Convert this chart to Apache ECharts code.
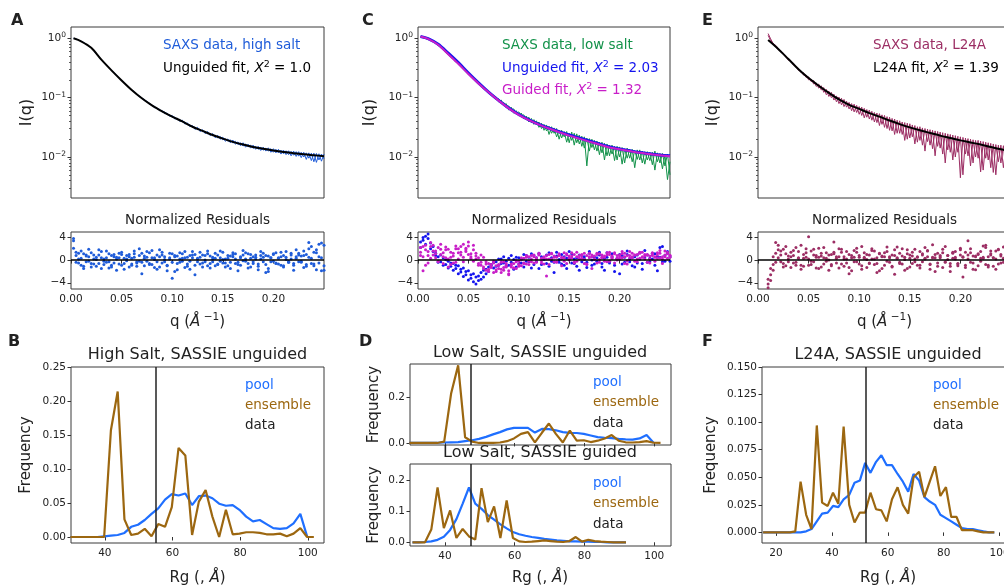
<!DOCTYPE html>
<html>
<head>
<meta charset="UTF-8">
<title>SAXS fits and Rg distributions</title>
<script src="https://cdn.jsdelivr.net/npm/echarts@6/dist/echarts.min.js"></script>
<style>
  html, body { margin: 0; padding: 0; background: #fff; }
  #main { width: 1004px; height: 588px; }
</style>
</head>
<body>
<div id="main"></div>
<script>
// ---- scattering vector grid (1/Å), shared by measured curves and residuals
var qGrid = [0.0025, 0.005, 0.0075, 0.01, 0.0125, 0.015, 0.0175, 0.02, 0.0225, 0.025,
  0.0275, 0.03, 0.0325, 0.035, 0.0375, 0.04, 0.0425, 0.045, 0.0475, 0.05,
  0.0525, 0.055, 0.0575, 0.06, 0.0625, 0.065, 0.0675, 0.07, 0.0725, 0.075,
  0.0775, 0.08, 0.0825, 0.085, 0.0875, 0.09, 0.0925, 0.095, 0.0975, 0.1,
  0.1025, 0.105, 0.1075, 0.11, 0.1125, 0.115, 0.1175, 0.12, 0.1225, 0.125,
  0.1275, 0.13, 0.1325, 0.135, 0.1375, 0.14, 0.1425, 0.145, 0.1475, 0.15,
  0.1525, 0.155, 0.1575, 0.16, 0.1625, 0.165, 0.1675, 0.17, 0.1725, 0.175,
  0.1775, 0.18, 0.1825, 0.185, 0.1875, 0.19, 0.1925, 0.195, 0.1975, 0.2,
  0.2025, 0.205, 0.2075, 0.21, 0.2125, 0.215, 0.2175, 0.22, 0.2225, 0.225,
  0.2275, 0.23, 0.2325, 0.235, 0.2375, 0.24, 0.2425, 0.245, 0.2475, 0.25];
// q points of the fitted curves
var qFit = [0.0025, 0.01, 0.02, 0.03, 0.04, 0.05, 0.06, 0.07, 0.08, 0.09, 0.10, 0.11, 0.12,
  0.13, 0.14, 0.15, 0.16, 0.17, 0.18, 0.19, 0.20, 0.21, 0.22, 0.23, 0.24, 0.25];

// ---- log10 I(q) (two interleaved traces per data set)
var logDataA = [0.00, -0.01, -0.03, -0.05, -0.07, -0.10, -0.13, -0.16, -0.21, -0.26,
  -0.31, -0.36, -0.40, -0.45, -0.50, -0.54, -0.58, -0.62, -0.67, -0.71,
  -0.75, -0.79, -0.83, -0.87, -0.90, -0.945, -0.97, -1.015, -1.03, -1.075,
  -1.09, -1.135, -1.145, -1.19, -1.195, -1.24, -1.24, -1.285, -1.29, -1.33,
  -1.33, -1.37, -1.365, -1.41, -1.41, -1.455, -1.455, -1.50, -1.495, -1.54,
  -1.53, -1.575, -1.565, -1.61, -1.60, -1.645, -1.63, -1.68, -1.655, -1.71,
  -1.69, -1.735, -1.71, -1.765, -1.735, -1.79, -1.76, -1.815, -1.78, -1.83,
  -1.80, -1.855, -1.82, -1.87, -1.835, -1.885, -1.85, -1.90, -1.86, -1.92,
  -1.87, -1.93, -1.885, -1.945, -1.895, -1.96, -1.905, -1.97, -1.91, -1.985,
  -1.92, -2.00, -1.93, -2.02, -1.935, -2.08, -1.94, -2.05, -1.95, -2.03];
var logDataA2 = [null, null, null, null, null, null, null, null, null, null,
  null, null, null, null, null, null, null, null, null, null,
  null, null, null, null, -0.91, -0.935, -0.985, -1.00, -1.05, -1.06,
  -1.115, -1.12, -1.17, -1.17, -1.22, -1.215, -1.27, -1.26, -1.315, -1.30,
  -1.36, -1.345, -1.40, -1.38, -1.445, -1.425, -1.49, -1.47, -1.535, -1.50,
  -1.57, -1.54, -1.605, -1.57, -1.64, -1.605, -1.675, -1.635, -1.70, -1.665,
  -1.735, -1.695, -1.76, -1.715, -1.785, -1.745, -1.81, -1.76, -1.835, -1.785,
  -1.85, -1.80, -1.87, -1.82, -1.89, -1.835, -1.90, -1.845, -1.92, -1.86,
  -1.93, -1.87, -1.95, -1.885, -1.96, -1.895, -1.98, -1.90, -1.99, -1.91,
  -2.01, -1.92, -2.04, -1.93, -2.06, -1.935, -2.09, -1.945, -2.07, -1.95];
var logFitA = [0.0, -0.05, -0.16, -0.36, -0.54, -0.71, -0.87, -1.01, -1.13, -1.23, -1.32, -1.40, -1.49,
  -1.56, -1.63, -1.69, -1.745, -1.79, -1.83, -1.86, -1.89, -1.915, -1.935, -1.955, -1.97, -1.985];

var logDataC = [0.02, 0.01, 0.0, -0.02, -0.03, -0.06, -0.08, -0.12, -0.15, -0.19,
  -0.24, -0.27, -0.32, -0.35, -0.40, -0.43, -0.475, -0.51, -0.565, -0.60,
  -0.645, -0.675, -0.725, -0.75, -0.805, -0.825, -0.88, -0.90, -0.95, -0.96,
  -1.03, -1.02, -1.08, -1.08, -1.14, -1.14, -1.20, -1.19, -1.27, -1.24,
  -1.30, -1.29, -1.37, -1.33, -1.42, -1.37, -1.46, -1.41, -1.52, -1.45,
  -1.56, -1.48, -1.60, -1.51, -1.66, -1.55, -1.68, -1.57, -1.75, -1.60,
  -1.72, -1.60, -1.76, -1.63, -1.82, -1.66, -2.15, -1.69, -1.84, -1.72,
  -1.90, -1.75, -1.93, -1.77, -1.98, -1.80, -1.95, -1.82, -2.05, -1.83,
  -2.12, -1.86, -2.02, -1.87, -2.08, -1.89, -2.04, -1.88, -2.10, -1.91,
  -2.05, -1.92, -2.13, -1.90, -2.08, -1.94, -2.20, -1.96, -2.38, -2.08];
var logDataC2 = [0.03, 0.02, 0.01, -0.01, -0.03, -0.05, -0.08, -0.11, -0.15, -0.19,
  -0.23, -0.27, -0.31, -0.35, -0.39, -0.43, -0.47, -0.52, -0.56, -0.60,
  -0.64, -0.68, -0.72, -0.76, -0.79, -0.84, -0.87, -0.92, -0.94, -0.99,
  -0.99, -1.07, -1.04, -1.13, -1.10, -1.21, -1.16, -1.26, -1.22, -1.31,
  -1.26, -1.36, -1.31, -1.41, -1.35, -1.45, -1.39, -1.50, -1.43, -1.55,
  -1.46, -1.62, -1.49, -1.60, -1.52, -1.70, -1.55, -1.66, -1.57, -1.76,
  -1.58, -1.80, -1.61, -1.78, -1.65, -1.85, -1.68, -1.90, -1.70, -1.88,
  -1.73, -1.96, -1.75, -2.05, -1.78, -1.98, -1.80, -2.06, -1.82, -2.00,
  -1.84, -2.10, -1.85, -2.02, -1.87, -2.18, -1.88, -2.05, -1.90, -2.12,
  -1.91, -2.06, -1.92, -2.22, -1.93, -2.10, -1.94, -2.15, -1.95, -2.30];
var logFitCu = [0.03, -0.005, -0.10, -0.25, -0.41, -0.585, -0.75, -0.905, -1.045, -1.175, -1.285, -1.375, -1.45,
  -1.515, -1.575, -1.63, -1.68, -1.73, -1.78, -1.83, -1.865, -1.895, -1.925, -1.945, -1.965, -1.98];
var logFitCg = [0.03, -0.01, -0.11, -0.27, -0.43, -0.60, -0.76, -0.91, -1.05, -1.18, -1.29, -1.38, -1.455,
  -1.52, -1.58, -1.64, -1.69, -1.74, -1.79, -1.84, -1.87, -1.90, -1.93, -1.95, -1.97, -1.985];

var logDataE = [null, null, null, 0.08, -0.01, -0.09, -0.12, -0.17, -0.23, -0.25,
  -0.32, -0.34, -0.40, -0.42, -0.49, -0.51, -0.58, -0.58, -0.66, -0.65,
  -0.73, -0.71, -0.81, -0.77, -0.87, -0.83, -0.95, -0.89, -1.00, -0.94,
  -1.07, -0.99, -1.12, -1.03, -1.16, -1.08, -1.22, -1.11, -1.25, -1.15,
  -1.30, -1.18, -1.33, -1.21, -1.38, -1.25, -1.42, -1.27, -1.45, -1.30,
  -1.52, -1.33, -1.56, -1.36, -1.60, -1.39, -1.62, -1.42, -1.70, -1.44,
  -1.66, -1.47, -1.75, -1.49, -1.80, -1.52, -1.74, -1.54, -1.86, -1.56,
  -1.82, -1.58, -1.95, -1.60, -1.88, -1.62, -2.05, -1.64, -1.92, -1.66,
  -2.30, -1.68, -1.98, -1.70, -2.10, -1.72, -2.02, -1.73, -2.22, -1.75,
  -2.05, -1.77, -2.26, -1.79, -2.08, -1.80, -2.18, -1.82, -2.12, -1.84];
var logDataE2 = [null, null, null, 0.05, -0.04, -0.08, -0.15, -0.19, -0.21, -0.27,
  -0.30, -0.37, -0.38, -0.45, -0.47, -0.54, -0.55, -0.62, -0.62, -0.70,
  -0.69, -0.77, -0.75, -0.84, -0.80, -0.91, -0.86, -0.98, -0.91, -1.04,
  -0.97, -1.10, -1.01, -1.15, -1.06, -1.19, -1.10, -1.24, -1.13, -1.28,
  -1.16, -1.34, -1.20, -1.36, -1.23, -1.41, -1.26, -1.47, -1.29, -1.50,
  -1.32, -1.55, -1.35, -1.62, -1.38, -1.60, -1.41, -1.72, -1.43, -1.68,
  -1.46, -1.78, -1.49, -1.72, -1.51, -1.90, -1.53, -1.80, -1.55, -1.98,
  -1.57, -1.85, -1.59, -2.10, -1.61, -1.92, -1.63, -2.00, -1.65, -2.35,
  -1.67, -1.95, -1.69, -2.15, -1.71, -2.00, -1.72, -2.25, -1.74, -2.02,
  -1.76, -2.18, -1.78, -2.30, -1.80, -2.10, -1.81, -2.25, -1.83, -2.15];
var logFitE = [null, -0.03, -0.18, -0.35, -0.52, -0.67, -0.80, -0.92, -1.03, -1.12, -1.19, -1.26, -1.32,
  -1.385, -1.445, -1.50, -1.55, -1.595, -1.64, -1.68, -1.72, -1.755, -1.79, -1.83, -1.87, -1.90];

// ---- normalized residuals on qGrid
var resA1 = [3.8, 1.4, 0.2, -0.9, 1.1, -0.3, 0.6, -1.2, 0.9, 0.1, -0.6, 1.5, -0.2, 0.4, -1.4, 0.8, -0.5, 0.2, 1.2, -0.9,
  0.3, -0.1, 1.0, -0.7, 0.5, -1.1, 2.0, -0.4, 0.7, -0.2, 1.3, -0.8, 0.1, -1.6, 0.6, 0.9, -0.3, -1.9, 0.4, -3.2,
  0.8, -0.6, 0.2, 1.1, -1.3, 0.5, -0.2, 0.9, -0.9, 0.3, 1.4, -0.5, 0.0, -1.0, 0.7, -0.3, 1.2, -0.7, 0.4, 0.1,
  -1.2, 0.8, -0.4, 1.0, 0.2, -0.8, 0.6, -0.1, 1.3, -1.4, 0.3, -0.6, 0.9, -1.7, 0.2, 0.5, -2.2, 0.7, -0.3, 1.1,
  -0.5, 0.4, -0.9, 0.8, 0.1, -0.4, 1.2, -0.6, 0.3, 0.9, -0.2, 1.6, -0.8, 0.5, 2.4, -1.0, 1.8, 0.6, -1.9, 2.6];
var resA2 = [3.4, 0.8, -0.5, 1.6, -1.1, 0.9, -0.2, 1.3, -0.7, 0.5, 1.8, -1.5, 0.2, -0.4, 1.1, -0.9, 0.6, -1.8, 0.4, 1.0,
  -0.6, 0.8, -1.2, 0.3, 1.6, -0.5, -0.2, 1.2, -1.0, 0.5, -0.8, 1.7, 0.4, -0.3, -1.2, 1.4, 0.6, -0.9, 0.2, 1.1,
  -2.0, 0.7, -0.4, 0.3, 1.5, -0.7, -1.6, 0.4, 1.0, -0.3, 0.5, -1.2, 0.8, 1.6, -0.6, 0.2, -1.0, 0.9, -0.2, 1.4,
  -0.5, 0.3, -1.5, 0.6, 1.1, -0.4, -0.9, 1.7, 0.2, -0.6, 1.0, -0.3, 0.5, -1.1, 0.8, 1.2, -0.8, -2.0, 0.4, -0.2,
  1.3, -0.7, 0.6, -1.2, 1.5, -0.4, 0.2, -0.9, 1.8, -0.3, 0.7, -1.3, 1.0, 3.1, -0.6, 1.4, -1.7, 2.8, 0.4, -1.0];
var resA3 = [2.1, -0.4, 1.2, 0.3, -1.5, 0.7, 1.9, -0.6, 0.2, -1.1, 0.9, 0.4, -0.8, 1.6, -0.3, -1.2, 1.0, 0.5, -0.7, 1.4,
  -1.6, 0.2, 0.6, -0.9, 1.1, -0.3, 0.8, -2.4, 0.3, 1.5, -0.6, 0.4, -1.3, 0.9, 1.8, -0.5, 0.1, -1.0, 1.2, -0.4,
  0.6, -1.7, 1.3, -0.2, 0.4, -1.1, 0.8, 1.5, -2.6, 0.2, -0.7, 0.9, -0.3, 1.1, -1.4, 0.5, 0.3, -0.8, 1.6, -0.5,
  0.2, -1.0, 0.7, 1.3, -0.6, -1.9, 0.4, 0.9, -0.2, 1.1, -1.2, 0.6, 0.2, -0.7, 1.5, -0.3, 0.8, -1.5, 0.4, 1.0,
  -0.6, 0.3, 1.4, -1.0, 0.5, -0.2, 0.9, -1.8, 0.6, 1.2, -0.4, 0.8, -1.1, 2.0, 0.3, -0.7, 1.3, -0.5, 3.0, -1.8];
var resCu1 = [2.2, 3.5, 4.2, 4.6, 3.0, 2.4, 1.2, 0.6, -0.3, 0.4, -0.8, -0.2, -1.1, -0.6, -1.5, -1.0, -2.1, -1.4, -2.6, -1.9,
  -3.2, -2.4, -4.2, -2.8, -3.4, -1.8, -2.4, -1.2, -0.8, -1.4, -0.3, -0.9, 0.2, -0.5, -1.1, 0.3, -0.4, -1.6, 0.5, -0.7,
  0.2, -1.2, 0.8, -0.3, 1.1, -0.8, 0.4, -1.5, 0.6, 0.1, -0.6, 1.3, -0.2, -2.2, 0.7, -0.4, 1.0, -0.9, 0.3, 1.5,
  -0.5, 0.2, -1.1, 0.9, -0.3, 0.6, -1.3, 1.2, 0.0, -0.7, 0.4, 1.4, -0.6, -1.8, 0.5, -0.2, 1.1, -0.9, 0.3, -2.4,
  0.8, -0.4, 1.0, 0.2, -1.0, 0.6, -0.5, 1.3, -1.6, 0.4, 0.9, -0.3, 0.2, 1.1, -1.9, 0.5, 2.4, -0.2, 1.2, 0.6];
var resCu2 = [3.2, 4.0, 2.8, 3.8, 2.0, 1.5, 0.8, -0.4, 0.9, -0.9, 0.1, -1.4, -0.5, -1.8, -0.9, -2.4, -1.6, -2.9, -2.0, -3.5,
  -2.6, -3.8, -3.0, -3.6, -2.2, -3.0, -1.6, -2.0, -0.9, -0.4, -1.1, 0.2, -0.6, 0.6, -0.2, -0.9, 0.8, 0.1, -1.2, 0.4,
  -0.5, 1.0, -0.2, 0.5, -1.4, 0.8, -0.3, 1.2, -0.8, 0.2, 0.9, -1.1, 0.4, -0.4, 1.4, 0.1, -0.7, 0.6, -1.5, 0.3,
  1.1, -0.6, 0.4, -1.8, 0.8, 0.2, -0.4, 1.5, -0.9, 0.6, -0.2, 0.9, -1.2, 0.3, 1.3, -0.5, 0.6, -2.0, 0.2, 1.0,
  -0.7, 0.5, 1.6, -0.3, 0.4, -1.2, 0.9, 0.2, -0.6, 1.7, -0.4, 0.3, 1.2, -0.9, 0.6, 2.2, -0.3, 0.8, 1.5, -0.2];
var resCg1 = [1.4, -1.9, 2.6, 0.8, 3.1, 1.6, 0.4, 2.2, 1.0, -0.6, 1.8, -1.2, 0.5, 1.2, -0.4, 2.0, 0.9, 2.8, 1.5, 3.2,
  0.6, 1.8, 0.2, -0.6, 0.9, -1.2, -0.3, -1.6, -0.8, -2.2, -1.0, -1.5, -0.4, -1.8, -0.9, -2.4, -1.2, -0.6, -1.5, -0.2,
  -1.0, 0.3, -0.7, 0.6, -0.3, 0.9, 0.1, 1.2, -0.5, 0.4, -2.8, 1.0, 0.2, 0.7, -0.3, 1.1, 0.5, -0.2, 0.9, 0.3,
  1.3, -0.4, 0.6, 0.2, 1.0, -0.6, 0.8, 0.4, -1.5, 0.7, 1.2, 0.1, 0.5, -0.2, 0.9, 1.4, 0.3, -0.5, 0.8, 0.2,
  1.1, 0.6, -0.1, 1.5, 0.4, 0.9, -0.3, 1.2, 0.5, 0.7, 1.0, 0.2, 0.8, -0.2, 1.3, 0.4, 0.6, 1.6, 0.3, 0.8];
var resCg2 = [2.2, 0.6, 1.8, -0.5, 2.4, 0.9, 1.6, -0.2, 2.8, 1.3, 0.4, 1.9, -0.8, 0.7, 2.5, 0.2, 1.4, -0.3, 2.1, 1.0,
  0.3, 2.6, 1.2, 0.4, -0.9, 0.5, -1.8, -0.6, -1.3, -0.2, -2.0, -0.9, -1.6, -0.3, -1.2, -2.6, -0.7, -1.4, -0.1, -1.1,
  0.4, -0.5, 0.8, -0.8, 0.2, 0.6, -0.4, 1.0, 0.3, -0.7, 0.8, 0.2, 1.2, -0.3, 0.5, 0.9, -1.0, 0.4, 1.1, 0.0,
  0.7, -0.5, 1.4, 0.3, 0.8, 0.1, -0.7, 1.2, 0.6, 0.2, 1.0, -0.4, 0.9, 0.5, 1.3, -0.2, 0.7, 1.1, 0.3, 0.6,
  1.5, -0.6, 0.8, 0.4, 1.2, 0.9, 0.2, 1.4, 0.6, 1.0, -0.4, 0.7, 1.3, 0.5, 0.9, 1.7, 0.2, 0.6, 1.1, 0.8];
var resCg3 = [0.8, 2.4, -0.9, 1.5, 0.3, 2.6, 1.1, -0.3, 1.9, 0.6, 2.3, 0.2, 1.4, -0.5, 2.0, 1.3, 2.4, 0.5, 1.8, 2.5,
  1.1, -0.2, 0.7, -0.9, -0.4, -1.5, -0.7, -2.0, -1.1, -0.5, -1.7, -0.8, -2.2, -1.3, -0.6, -1.9, -0.9, -1.4, -0.3, -0.8,
  0.1, -0.6, 0.5, -0.2, 0.8, -0.5, 0.4, 0.9, -0.1, 0.6, 0.2, -0.8, 1.1, 0.5, -0.4, 0.8, 0.2, 1.3, -0.6, 0.7,
  0.4, 1.0, -0.2, 0.8, 0.3, 1.2, -0.8, 0.6, 0.9, 0.1, -0.5, 1.1, 0.4, 0.7, -0.3, 1.0, 0.5, 1.3, 0.0, 0.9,
  0.4, 1.2, -0.7, 0.8, 0.6, -0.2, 1.0, 0.3, 1.4, 0.2, 0.9, -0.5, 1.1, 0.6, 0.3, 1.2, -0.6, 0.9, 1.4, 0.5];
var resE1 = [null, null, null, -4.9, -2.6, -0.8, 3.1, 0.4, 1.6, -0.6, 1.1, 0.2, -1.3, 0.8, -0.4, 1.5, -0.9, 0.3, 2.0, 4.1,
  -0.2, 0.9, -1.4, 0.5, 1.2, -0.7, 0.3, -1.8, 1.0, 3.2, -0.5, 0.6, 1.4, -1.1, 0.2, -2.4, 0.8, 1.7, -0.3, 0.5,
  -1.0, 1.3, 0.1, -0.6, 2.0, -0.8, 0.4, 1.1, -1.5, 0.6, 2.3, -0.4, 0.9, -2.5, 0.3, 1.2, -0.7, 0.5, 1.8, -1.2,
  0.7, 0.2, -0.9, 1.5, -0.3, 2.2, 0.6, -1.6, 0.4, 1.0, -0.5, 0.8, -1.3, 2.4, 0.1, -0.6, 1.2, 0.5, -1.0, 0.9,
  -3.0, 1.4, 3.4, -0.4, 0.7, -1.7, 1.1, 0.3, 2.5, -0.8, 0.6, 1.6, -1.1, 0.2, 1.9, -0.5, 2.3, 0.8, -1.4, 1.2];
var resE2 = [null, null, null, -4.2, -3.6, -1.8, 1.2, 2.6, -0.3, 1.9, -1.0, 0.7, 1.4, -0.5, 2.2, 0.3, -1.6, 1.0, 0.5, -0.9,
  1.6, -0.3, 0.8, 2.1, -1.2, 0.4, 1.3, 0.0, -0.8, 1.1, 0.6, -1.4, 1.9, 0.2, -0.5, 1.0, -1.9, 0.5, 1.4, -0.7,
  2.4, 0.3, -1.3, 0.9, 0.2, 1.6, -0.6, -1.9, 0.7, 1.3, -0.2, 0.6, -1.1, 1.8, 0.4, -0.6, 2.0, 0.1, -1.5, 0.9,
  1.4, -0.3, 0.6, -0.9, 1.1, 0.3, 1.7, -0.7, 0.5, -2.0, 1.2, 0.4, 1.9, -0.4, 0.8, -1.1, 0.3, 1.5, -0.6, 2.1,
  0.6, -0.9, 0.2, 1.3, -1.6, 0.7, 1.0, -0.2, 0.5, 2.2, -1.2, 0.9, 0.4, 1.6, -0.7, 1.0, 0.3, -1.3, 0.8, 2.0];
var resE3 = [null, null, null, -3.4, -1.5, 0.6, -0.4, 1.8, 0.9, -1.2, 2.4, -0.3, 0.6, 1.7, -0.9, 0.4, 2.6, -1.1, 1.3, 0.2,
  -0.8, 1.9, 0.5, -1.5, 0.7, 2.2, -0.2, 0.9, -1.0, 1.4, 0.3, 2.0, -0.7, 0.6, 1.5, -1.3, 0.4, -0.3, 2.1, 0.8,
  -1.6, 0.5, 1.0, -0.5, 1.7, 0.2, -2.2, 1.2, 0.6, -0.9, 1.5, 0.4, -1.2, 0.8, 2.3, -0.4, 0.7, -1.8, 1.1, 0.3,
  -0.6, 1.9, 0.5, -1.4, 0.9, 0.2, 1.6, -0.8, 2.7, 0.4, -1.1, 0.6, 1.3, -0.3, 0.8, -2.0, 1.4, 0.2, -0.7, 1.8,
  0.5, -1.3, 0.9, 2.0, -0.5, 0.6, -1.0, 1.5, 0.3, 2.6, -0.9, 1.1, 0.4, -1.6, 1.8, 0.7, -0.4, 2.2, 0.5, -0.8];

// ---- Rg distributions (Å) and frequencies
var rgEven = [29.8, 31.8, 33.8, 35.8, 37.8, 39.8, 41.8, 43.8, 45.8, 47.8, 49.8, 51.8, 53.8, 55.8, 57.8, 59.8,
  61.8, 63.8, 65.8, 67.8, 69.8, 71.8, 73.8, 75.8, 77.8, 79.8, 81.8, 83.8, 85.8, 87.8, 89.8, 91.8, 93.8,
  95.8, 97.8, 99.8, 101.8];
var poolB = [0, 0, 0, 0, 0, 0.001, 0.002, 0.003, 0.006, 0.015, 0.018, 0.025, 0.034, 0.042, 0.055, 0.063,
  0.061, 0.064, 0.047, 0.06, 0.061, 0.057, 0.049, 0.046, 0.047, 0.04, 0.03, 0.023, 0.025, 0.019, 0.013,
  0.012, 0.013, 0.02, 0.034, 0.001, null];
var ensB = [0, 0, 0, 0, 0, 0, 0.157, 0.214, 0.026, 0.003, 0.005, 0.012, 0.001, 0.019, 0.015, 0.044,
  0.131, 0.12, 0.003, 0.052, 0.069, 0.03, 0, 0.04, 0.004, 0.005, 0.007, 0.007, 0.006, 0.004, 0.004,
  0.005, 0.001, 0.005, 0.013, 0, 0];
var poolD1 = [0, 0, 0, 0, 0.001, 0.002, 0.003, 0.004, 0.008, 0.012, 0.018, 0.027, 0.038, 0.048, 0.06, 0.067,
  0.067, 0.067, 0.046, 0.062, 0.061, 0.056, 0.048, 0.045, 0.044, 0.04, 0.033, 0.026, 0.023, 0.021, 0.018,
  0.016, 0.015, 0.02, 0.035, 0.001, null];
var ensD1 = [0, 0, 0, 0, 0, 0.006, 0.22, 0.343, 0.025, 0.006, 0, 0, 0, 0.002, 0.008, 0.02,
  0.04, 0.048, 0.003, 0.045, 0.086, 0.04, 0.002, 0.055, 0.01, 0.012, 0.004, 0.01, 0.02, 0.035, 0.01,
  0.003, 0.002, 0.004, 0.008, 0.001, 0];
var rgD2 = [30.7, 32.5, 34.3, 36.1, 37.9, 39.7, 41.5, 43.3, 45.1, 46.9, 48.7, 50.5, 52.3, 54.1, 55.9, 57.7,
  59.5, 61.3, 63.1, 64.9, 66.7, 68.5, 70.3, 72.1, 73.9, 75.7, 77.5, 79.3, 81.1, 82.9, 84.7, 86.5, 88.3,
  90.1, 91.9];
var poolD2 = [0, 0, 0.001, 0.003, 0.008, 0.018, 0.04, 0.075, 0.125, 0.177, 0.125, 0.108, 0.088, 0.073, 0.058, 0.045,
  0.033, 0.026, 0.021, 0.017, 0.014, 0.011, 0.009, 0.006, 0.005, 0.003, 0.003, 0.002, 0.002, 0.001, 0.001, 0, 0,
  0, 0];
var ensD2 = [0, 0, 0, 0.041, 0.177, 0.046, 0.103, 0.014, 0.043, 0.019, 0.009, 0.175, 0.065, 0.116, 0.014, 0.135,
  0.014, 0.003, 0.001, 0.002, 0.004, 0.006, 0.004, 0.002, 0.001, 0.004, 0.017, 0.002, 0.008, 0.004, 0.002, 0.001, 0,
  0, 0];
var rgF = [15.4, 17.3, 19.2, 21.2, 23.1, 25.0, 26.9, 28.8, 30.8, 32.7, 34.6, 36.5, 38.5, 40.4, 42.3, 44.2,
  46.2, 48.1, 50.0, 51.9, 53.8, 55.8, 57.7, 59.6, 61.5, 63.5, 65.4, 67.3, 69.2, 71.2, 73.1, 75.0, 76.9,
  78.8, 80.8, 82.7, 84.6, 86.5, 88.5, 90.4, 92.3, 94.2, 96.2, 98.1];
var poolF = [0, 0, 0, 0, 0, 0, 0, 0, 0.001, 0.003, 0.01, 0.017, 0.018, 0.024, 0.023, 0.03,
  0.034, 0.045, 0.047, 0.063, 0.054, 0.064, 0.07, 0.061, 0.061, 0.053, 0.046, 0.037, 0.053, 0.047, 0.032, 0.028, 0.025,
  0.016, 0.013, 0.01, 0.007, 0.004, 0.003, 0.003, 0.002, 0.001, 0, 0];
var ensF = [0, 0, 0, 0, 0, 0, 0.001, 0.046, 0.016, 0.003, 0.097, 0.027, 0.024, 0.036, 0.026, 0.096,
  0.025, 0.009, 0.018, 0.018, 0.036, 0.021, 0.02, 0.01, 0.03, 0.041, 0.025, 0.017, 0.05, 0.055, 0.032, 0.046, 0.06,
  0.033, 0.041, 0.014, 0.014, 0.002, 0.002, 0.002, 0.001, 0, 0, 0];
// experimental Rg (vertical "data" line) for B, D top, D bottom, F
var dataRg = [55.0, 47.4, 47.4, 52.0];

// ---- colours
var C_BLUE_A = '#1f5cd9';
var C_GREEN = '#13924a';
var C_FITBLUE = '#1414ee';
var C_MAGENTA = '#c81ec8';
var C_MAROON = '#9c2e64';
var C_POOL = '#1f6fff';
var C_ENS = '#9c6710';
var INK = '#222222';
var FONT = 'DejaVu Sans';

function pairs(xs, ys, f) {
  var out = [];
  for (var i = 0; i < xs.length; i++) {
    if (ys[i] === null || ys[i] === undefined) continue;
    out.push([xs[i], f ? f(ys[i]) : ys[i]]);
  }
  return out;
}
function pow10(v) { return Math.pow(10, v); }
function minus(v) { return v < 0 ? '\u2212' + (-v) : '' + v; }

var chart = echarts.init(document.getElementById('main'));

// grids: 0-2 I(q), 3-5 residuals, 6 B, 7-8 D, 9 F
var grids = [
  {left: 71, top: 27, width: 253, height: 171},
  {left: 418, top: 27, width: 252, height: 171},
  {left: 758, top: 27, width: 253, height: 171},
  {left: 71, top: 232, width: 253, height: 57},
  {left: 418, top: 232, width: 252, height: 57},
  {left: 758, top: 232, width: 253, height: 57},
  {left: 71, top: 367, width: 253, height: 176},
  {left: 410, top: 364, width: 261, height: 81},
  {left: 410, top: 464, width: 261, height: 82},
  {left: 762, top: 367, width: 253, height: 176}
];
grids.forEach(function (g) {
  g.show = true;
  g.borderColor = '#3a3a3a';
  g.borderWidth = 1;
  g.backgroundColor = 'transparent';
  g.containLabel = false;
  g.outerBoundsMode = 'none';
});

var tickStyle = {show: true, length: 3.5, lineStyle: {color: '#333', width: 1}};
function labelStyle(extra) {
  var s = {fontFamily: FONT, fontSize: 10.5, color: INK, margin: 5};
  for (var k in extra) s[k] = extra[k];
  return s;
}

function logFmt(v) {
  var e = Math.log10(v), r = Math.round(e);
  if (Math.abs(e - r) > 1e-6) return '';
  return '{b|10}{s|' + minus(r) + '}';
}

// minor log ticks (2..9 x 10^n) placed on a companion axis in log10 units
var minorLog = [];
[-3, -2, -1].forEach(function (n) {
  for (var k = 2; k <= 9; k++) minorLog.push(Math.log10(k) + n);
});

var qTicks = [0, 0.05, 0.1, 0.15, 0.2];
var xAxes = [], yAxes = [];
for (var i = 0; i < 3; i++) {
  xAxes.push({type: 'value', gridIndex: i, min: 0, max: 0.25, show: false});
  yAxes.push({
    type: 'log', logBase: 10, gridIndex: i, min: 0.00204, max: 1.55,
    axisLine: {show: false}, splitLine: {show: false}, axisTick: tickStyle,
    axisLabel: labelStyle({
      showMinLabel: false, showMaxLabel: false, formatter: logFmt,
      rich: {
        b: {fontFamily: FONT, fontSize: 10.5, color: INK, lineHeight: 14},
        s: {fontFamily: FONT, fontSize: 7.5, color: INK, lineHeight: 6, verticalAlign: 'top'}
      }
    })
  });
}
for (i = 3; i < 6; i++) {
  xAxes.push({
    type: 'value', gridIndex: i, min: 0, max: 0.25, interval: 0.05,
    axisLine: {show: false}, splitLine: {show: false},
    axisTick: {show: true, length: 3.5, lineStyle: {color: '#333'}, customValues: qTicks},
    axisLabel: labelStyle({customValues: qTicks, formatter: function (v) { return v > 0.249 ? '' : v.toFixed(2); }})
  });
  yAxes.push({
    type: 'value', gridIndex: i, min: -5.1, max: 4.95,
    axisLine: {show: false}, splitLine: {show: false},
    axisTick: {show: true, length: 3.5, lineStyle: {color: '#333'}, customValues: [-4, 0, 4]},
    axisLabel: labelStyle({customValues: [-4, 0, 4], formatter: function (v) { return minus(v); }})
  });
}
function histX(gi, min, max, ticks, showLabels) {
  return {
    type: 'value', gridIndex: gi, min: min, max: max,
    axisLine: {show: false}, splitLine: {show: false},
    axisTick: {show: true, length: 3.5, lineStyle: {color: '#333'}, customValues: ticks},
    axisLabel: labelStyle({show: showLabels, customValues: ticks})
  };
}
function histY(gi, min, max, ticks, digits) {
  return {
    type: 'value', gridIndex: gi, min: min, max: max,
    axisLine: {show: false}, splitLine: {show: false},
    axisTick: {show: true, length: 3.5, lineStyle: {color: '#333'}, customValues: ticks},
    axisLabel: labelStyle({customValues: ticks, formatter: function (v) { return v.toFixed(digits); }})
  };
}
xAxes.push(histX(6, 30, 104.8, [40, 60, 80, 100], true));
xAxes.push(histX(7, 30, 104.8, [40, 60, 80, 100], false));
xAxes.push(histX(8, 30, 104.8, [40, 60, 80, 100], true));
xAxes.push(histX(9, 15, 105.5, [20, 40, 60, 80, 100], true));
yAxes.push(histY(6, -0.0088, 0.25, [0, 0.05, 0.1, 0.15, 0.2, 0.25], 2));
yAxes.push(histY(7, -0.009, 0.349, [0, 0.2], 1));
yAxes.push(histY(8, -0.012, 0.253, [0, 0.1, 0.2], 1));
yAxes.push(histY(9, -0.0096, 0.15, [0, 0.025, 0.05, 0.075, 0.1, 0.125, 0.15], 3));
// companion minor-tick axes for the three log plots (indices 10-12)
for (i = 0; i < 3; i++) {
  yAxes.push({
    type: 'value', gridIndex: i, position: 'left', offset: 0,
    min: Math.log10(0.00204), max: Math.log10(1.55),
    axisLine: {show: false}, splitLine: {show: false}, axisLabel: {show: false},
    axisTick: {show: true, length: 2, lineStyle: {color: '#333', width: 0.8}, customValues: minorLog}
  });
}

var series = [];
function curve(name, gi, xs, ys, color, width, smooth) {
  series.push({
    name: name, type: 'line', xAxisIndex: gi, yAxisIndex: gi,
    data: pairs(xs, ys, gi < 3 ? pow10 : null),
    symbol: 'none', smooth: smooth || false, clip: true,
    lineStyle: {color: color, width: width}, itemStyle: {color: color}
  });
}
function dots(name, gi, ys, color, zeroLine) {
  var s = {
    name: name, type: 'scatter', xAxisIndex: gi, yAxisIndex: gi,
    data: pairs(qGrid, ys), symbol: 'circle', symbolSize: 3,
    itemStyle: {color: color, opacity: 1}
  };
  if (zeroLine) {
    s.markLine = {
      silent: true, symbol: ['none', 'none'], label: {show: false},
      lineStyle: {color: '#000', width: 1.5, type: 'solid'},
      data: [{yAxis: 0}]
    };
  }
  series.push(s);
}
function dataLine(gi, rg) {
  series.push({
    name: 'data', type: 'line', xAxisIndex: gi, yAxisIndex: gi, data: [],
    itemStyle: {color: '#222'},
    markLine: {
      silent: true, symbol: ['none', 'none'], label: {show: false},
      lineStyle: {color: '#222', width: 1.5, type: 'solid'},
      data: [{xAxis: rg}]
    }
  });
}

// A
curve('SAXS data, high salt', 0, qGrid, logDataA, C_BLUE_A, 1);
curve('SAXS data, high salt', 0, qGrid, logDataA2, C_BLUE_A, 1);
curve('Unguided fit, X2 = 1.0', 0, qFit, logFitA, '#000', 2, 0.3);
dots('res A1', 3, resA1, C_BLUE_A, false);
dots('res A2', 3, resA2, C_BLUE_A, false);
dots('res A3', 3, resA3, C_BLUE_A, true);
// C
curve('SAXS data, low salt', 1, qGrid, logDataC, C_GREEN, 1);
curve('SAXS data, low salt', 1, qGrid, logDataC2, C_GREEN, 1);
curve('Unguided fit, X2 = 2.03', 1, qFit, logFitCu, C_FITBLUE, 3, 0.3);
curve('Guided fit, X2 = 1.32', 1, qFit, logFitCg, C_MAGENTA, 2, 0.3);
dots('res C unguided 1', 4, resCu1, C_FITBLUE, false);
dots('res C unguided 2', 4, resCu2, C_FITBLUE, false);
dots('res C guided 1', 4, resCg1, C_MAGENTA, false);
dots('res C guided 2', 4, resCg2, C_MAGENTA, false);
dots('res C guided 3', 4, resCg3, C_MAGENTA, true);
// E
curve('SAXS data, L24A', 2, qGrid, logDataE, C_MAROON, 1);
curve('SAXS data, L24A', 2, qGrid, logDataE2, C_MAROON, 1);
curve('L24A fit, X2 = 1.39', 2, qFit, logFitE, '#000', 2, 0.3);
dots('res E1', 5, resE1, C_MAROON, false);
dots('res E2', 5, resE2, C_MAROON, false);
dots('res E3', 5, resE3, C_MAROON, true);
// B, D, F
curve('pool', 6, rgEven, poolB, C_POOL, 2.2);
curve('ensemble', 6, rgEven, ensB, C_ENS, 2.2);
dataLine(6, dataRg[0]);
curve('pool', 7, rgEven, poolD1, C_POOL, 2.2);
curve('ensemble', 7, rgEven, ensD1, C_ENS, 2.2);
dataLine(7, dataRg[1]);
curve('pool', 8, rgD2, poolD2, C_POOL, 2.2);
curve('ensemble', 8, rgD2, ensD2, C_ENS, 2.2);
dataLine(8, dataRg[2]);
curve('pool', 9, rgF, poolF, C_POOL, 2.2);
curve('ensemble', 9, rgF, ensF, C_ENS, 2.2);
dataLine(9, dataRg[3]);

// legends: text only, coloured like their series
function legendText(name) {
  var m = name.match(/^(.*)X2( = .*)$/);
  return m ? m[1] + '{i|X}{s|2}' + m[2] : name;
}
function legendAt(left, top, items, gap) {
  return {
    left: left, top: top, orient: 'vertical', padding: 0, itemGap: gap,
    itemWidth: 0, itemHeight: 8, icon: 'none', selectedMode: false,
    data: items.map(function (it) { return {name: it[0], textStyle: {color: it[1]}}; }),
    formatter: legendText,
    textStyle: {
      fontFamily: FONT, fontSize: 13.5, lineHeight: 17, color: INK,
      rich: {
        i: {fontFamily: FONT, fontSize: 13.5, fontStyle: 'italic', lineHeight: 17},
        s: {fontFamily: FONT, fontSize: 9.5, lineHeight: 8, verticalAlign: 'top'}
      }
    }
  };
}
var histItems = [['pool', C_POOL], ['ensemble', C_ENS], ['data', '#222']];
var legends = [
  legendAt(158, 37, [['SAXS data, high salt', C_BLUE_A], ['Unguided fit, X2 = 1.0', '#000']], 5.5),
  legendAt(497, 37, [['SAXS data, low salt', C_GREEN], ['Unguided fit, X2 = 2.03', C_FITBLUE], ['Guided fit, X2 = 1.32', C_MAGENTA]], 5.5),
  legendAt(868, 37, [['SAXS data, L24A', C_MAROON], ['L24A fit, X2 = 1.39', '#000']], 5.5),
  legendAt(240, 376.5, histItems, 3.3),
  legendAt(588, 374, histItems, 3.3),
  legendAt(588, 475, histItems, 3.3),
  legendAt(928, 376.5, histItems, 3.3)
];

// free text: panel letters, titles, axis names
var graphics = [];
function txt(text, x, y, size, opts) {
  opts = opts || {};
  graphics.push({
    type: 'text', x: x, y: y, rotation: opts.rotate ? Math.PI / 2 : 0, z: 100,
    style: {
      text: text, fill: INK, fontFamily: FONT, fontSize: size,
      fontWeight: opts.bold ? 'bold' : 'normal',
      align: opts.align || 'center', verticalAlign: 'middle',
      textAlign: opts.align || 'center', textVerticalAlign: 'middle',
      rich: opts.rich
    }
  });
}
var qRich = {
  i: {fontFamily: FONT, fontSize: 15, fontStyle: 'italic', fill: INK, lineHeight: 20},
  s: {fontFamily: FONT, fontSize: 10.5, fill: INK, lineHeight: 10, verticalAlign: 'top'}
};
var rgRich = {i: {fontFamily: FONT, fontSize: 15, fontStyle: 'italic', fill: INK, lineHeight: 20}};
[['A', 11, 21], ['C', 362, 21], ['E', 702, 21], ['B', 8, 342], ['D', 359, 342], ['F', 702, 342]].forEach(function (p) {
  txt(p[0], p[1], p[2], 16, {bold: true, align: 'left'});
});
[197.5, 544, 884.5].forEach(function (cx) {
  txt('Normalized Residuals', cx, 220.5, 13.5);
  txt('q ({i|Å}{s| \u22121})', cx, 322, 15, {rich: qRich});
});
[27, 370, 713].forEach(function (cx) { txt('I(q)', cx, 112.5, 16, {rotate: true}); });
[[26, 455], [374, 404.5], [374, 505], [711, 455]].forEach(function (p) {
  txt('Frequency', p[0], p[1], 15, {rotate: true});
});
[197.5, 540, 888].forEach(function (cx) { txt('Rg (, {i|Å})', cx, 578, 15, {rich: rgRich}); });
txt('High Salt, SASSIE unguided', 197.5, 355, 16);
txt('Low Salt, SASSIE unguided', 540, 352.7, 16);
txt('Low Salt, SASSIE guided', 540, 453.3, 16);
txt('L24A, SASSIE unguided', 888, 355, 16);

chart.setOption({
  animation: false,
  backgroundColor: '#ffffff',
  textStyle: {fontFamily: FONT},
  grid: grids,
  xAxis: xAxes,
  yAxis: yAxes,
  legend: legends,
  series: series,
  graphic: graphics
});
window.addEventListener('resize', function () { chart.resize(); });
</script>
</body>
</html>
